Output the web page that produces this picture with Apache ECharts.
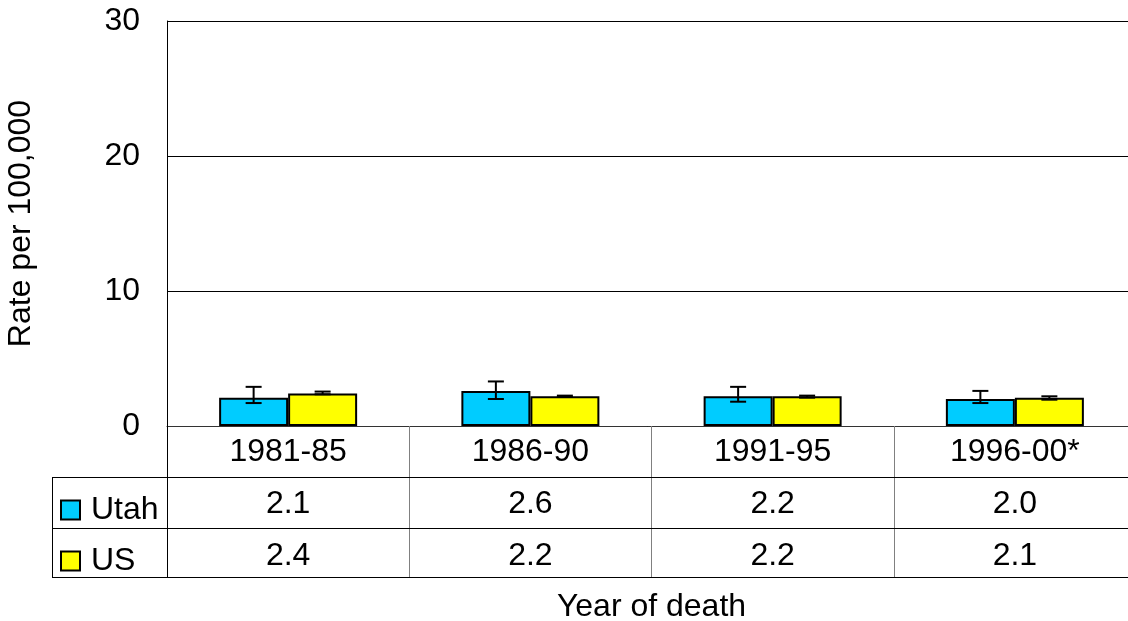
<!DOCTYPE html>
<html><head><meta charset="utf-8">
<script src="https://cdn.jsdelivr.net/npm/echarts@6/dist/echarts.min.js"></script>
<style>html,body{margin:0;padding:0;background:#fff}#c{width:1128px;height:621px}</style>
</head><body><div id="c"></div>
<script>
const categories = ['1981-85', '1986-90', '1991-95', '1996-00*'];
const seriesNames = ['Utah', 'US'];
const utah = [2.1, 2.6, 2.2, 2.0];
const us = [2.4, 2.2, 2.2, 2.1];
const utahLow = [1.7, 2.0, 1.8, 1.7];
const utahHigh = [2.9, 3.3, 2.9, 2.6];
const usLow = [2.35, 2.15, 2.1, 1.95];
const usHigh = [2.55, 2.25, 2.25, 2.2];
const yMin = 0, yMax = 30, yStep = 10;

const FONT = 'Liberation Sans, Arial, sans-serif';
const FS = 32;
const chart = echarts.init(document.getElementById('c'), null, {renderer: 'canvas'});

function errRender(offset) {
  return function (params, api) {
    const x = api.coord([api.value(0), 0])[0] + offset;
    const lo = api.coord([api.value(0), api.value(1)])[1];
    const hi = api.coord([api.value(0), api.value(2)])[1];
    const style = {stroke: '#000', lineWidth: 2};
    return {type: 'group', children: [
      {type: 'line', shape: {x1: x, y1: lo, x2: x, y2: hi}, style: style},
      {type: 'line', shape: {x1: x - 8, y1: lo, x2: x + 8, y2: lo}, style: style},
      {type: 'line', shape: {x1: x - 8, y1: hi, x2: x + 8, y2: hi}, style: style}
    ]};
  };
}

const fmt = v => v.toFixed(1);

const option = {
  animation: false,
  backgroundColor: '#fff',
  textStyle: {fontFamily: FONT, color: '#000'},
  grid: {left: 167, top: 21, width: 969, height: 405, outerBoundsMode: 'none', containLabel: false},
  legend: {
    data: seriesNames, orient: 'vertical', left: 60, top: 494, padding: 0,
    itemWidth: 19, itemHeight: 19, itemGap: 19, icon: 'rect',
    textStyle: {fontSize: FS, fontFamily: FONT, color: '#000', padding: [0, 0, 0, 6]}
  },
  xAxis: {
    type: 'category', data: categories,
    name: 'Year of death', nameLocation: 'middle', nameGap: 165,
    nameTextStyle: {fontSize: FS, fontFamily: FONT, color: '#000'},
    axisLine: {lineStyle: {color: '#333', width: 1}},
    axisTick: {show: true, length: 151, interval: 0, lineStyle: {color: '#808080', width: 1}},
    axisLabel: {
      interval: 0, margin: 0, color: '#000',
      formatter: function (v, i) {
        return '{a|' + v + '}\n{a|' + fmt(utah[i]) + '}\n{a|' + fmt(us[i]) + '}';
      },
      rich: {a: {fontSize: FS, fontFamily: FONT, lineHeight: 52, color: '#000'}}
    }
  },
  yAxis: {
    type: 'value', min: yMin, max: yMax, interval: yStep,
    name: 'Rate per 100,000', nameLocation: 'middle', nameGap: 130,
    nameTextStyle: {fontSize: FS, fontFamily: FONT, color: '#000'},
    axisLine: {show: true, lineStyle: {color: '#000', width: 1}},
    axisTick: {show: false},
    axisLabel: {fontSize: FS, fontFamily: FONT, color: '#000', margin: 27},
    splitLine: {lineStyle: {color: '#000', width: 1}}
  },
  series: [
    {name: 'Utah', type: 'bar', data: utah, barWidth: 69, barGap: '0%',
      itemStyle: {color: '#00CCFF', borderColor: '#000', borderWidth: 2}},
    {name: 'US', type: 'bar', data: us, barWidth: 69, barGap: '0%',
      itemStyle: {color: '#FFFF00', borderColor: '#000', borderWidth: 2}},
    {type: 'custom', renderItem: errRender(-34.5), z: 5,
      data: categories.map((c, i) => [i, utahLow[i], utahHigh[i]])},
    {type: 'custom', renderItem: errRender(34.5), z: 5,
      data: categories.map((c, i) => [i, usLow[i], usHigh[i]])}
  ],
  graphic: [
    {type: 'line', z: 10, shape: {x1: 52, y1: 477.5, x2: 1128, y2: 477.5}, style: {stroke: '#000', lineWidth: 1}},
    {type: 'line', z: 10, shape: {x1: 52, y1: 528.5, x2: 1128, y2: 528.5}, style: {stroke: '#000', lineWidth: 1}},
    {type: 'line', z: 10, shape: {x1: 52, y1: 577.5, x2: 1128, y2: 577.5}, style: {stroke: '#000', lineWidth: 1}},
    {type: 'line', z: 10, shape: {x1: 52.5, y1: 477, x2: 52.5, y2: 578}, style: {stroke: '#000', lineWidth: 1}},
    {type: 'line', z: 10, shape: {x1: 167.5, y1: 426, x2: 167.5, y2: 578}, style: {stroke: '#000', lineWidth: 1}}
  ]
};
chart.setOption(option);
</script>
</body></html>
